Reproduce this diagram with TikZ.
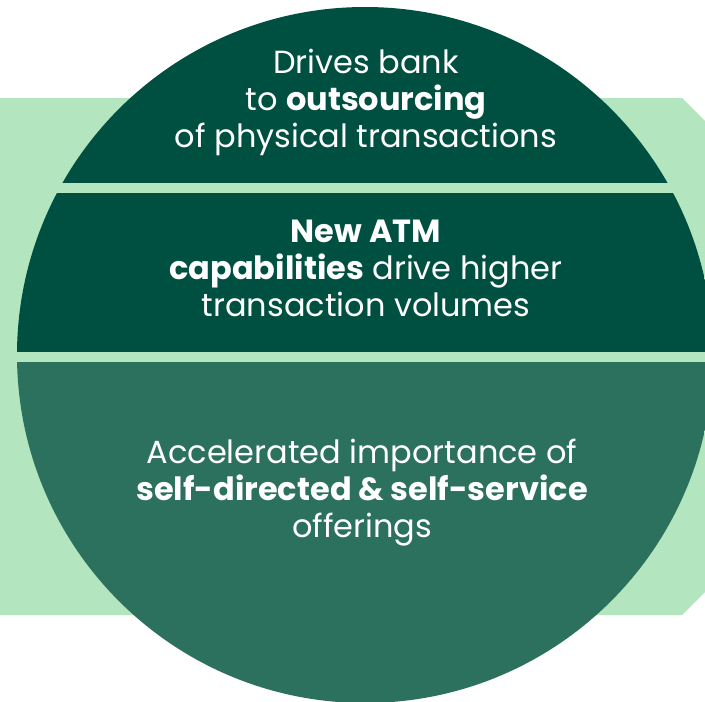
\documentclass[tikz,border=0pt]{standalone}
\usepackage{fontspec}
\setmainfont{Poppins}
\usepackage{tikz}

\definecolor{leafdark}{HTML}{005042}
\definecolor{leafmid}{HTML}{2C705E}
\definecolor{leaflight}{HTML}{B3E5BF}

\tikzset{
	bandtext/.style={text=white, align=center, inner sep=0pt, font=\fontsize{32}{37}\selectfont},
}

\begin{document}
\begin{tikzpicture}[x=1pt, y=-1pt]
			\useasboundingbox (0, 0) rectangle (705, 702);
			% backdrop
			\fill[leaflight] (0, 98) -- (682, 98) -- (705, 121) -- (705, 592) -- (682, 615) -- (0, 615) -- cycle;
			% bands of the disc
			\begin{scope}
				\clip (365, 355) circle (348);
				\fill[leafdark] (0, 0) rectangle (720, 183);
				\fill[leafdark] (0, 193) rectangle (720, 352);
				\fill[leafmid] (0, 362) rectangle (720, 720);
			\end{scope}
			\node[bandtext] (outsourcing) at (366, 102) {Drives bank\\to \textbf{outsourcing}\\of physical transactions};
			\node[bandtext] (capabilities) at (366, 268) {\textbf{New ATM}\\\textbf{capabilities} drive higher\\transaction volumes};
			\node[bandtext] (selfservice) at (362, 493) {Accelerated importance of\\\textbf{self-directed \& self-service}\\offerings};
		\end{tikzpicture}
\end{document}
